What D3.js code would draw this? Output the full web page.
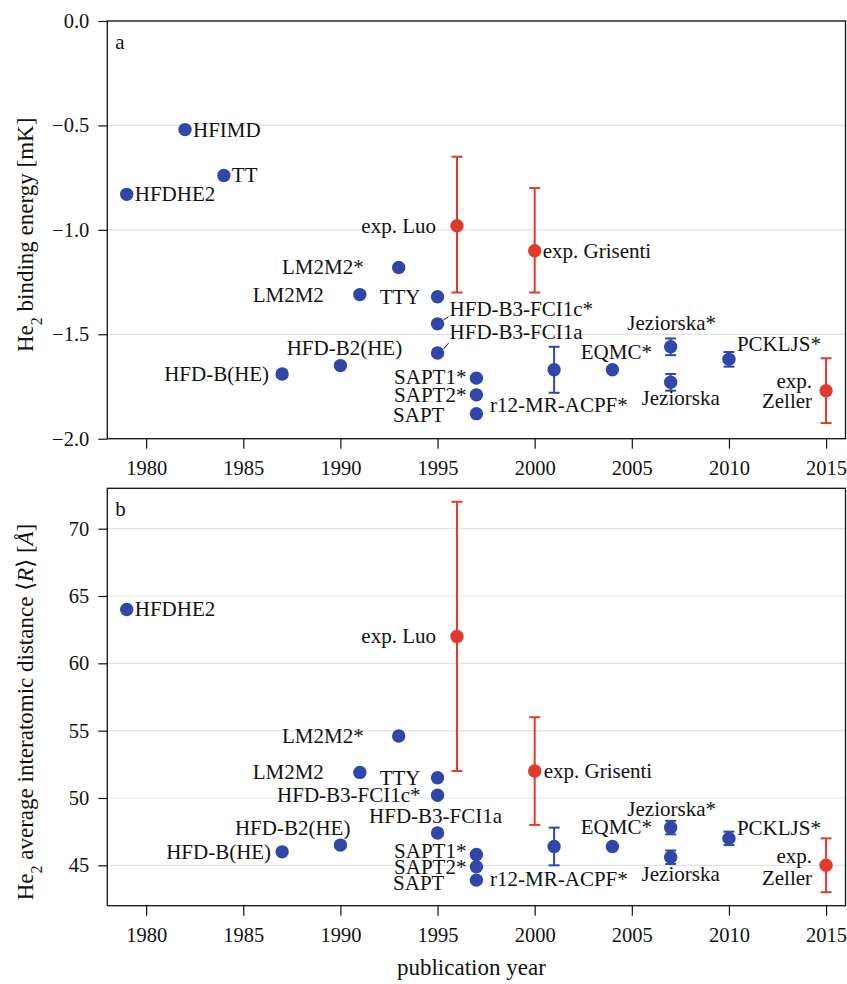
<!DOCTYPE html>
<html>
<head>
<meta charset="utf-8">
<script src="https://cdn.jsdelivr.net/npm/d3@7"></script>
<style>
  body { margin: 0; background: #fff; }
  svg text { font-family: "Liberation Serif", "DejaVu Serif", serif; fill: #111; }
</style>
</head>
<body>
<div id="chart"></div>
<script>
// publications, in the order they are drawn
var names = ["HFDHE2", "HFIMD", "TT", "HFD-B(HE)", "HFD-B2(HE)", "LM2M2", "LM2M2*", "TTY",
    "HFD-B3-FCI1c*", "HFD-B3-FCI1a", "exp. Luo", "SAPT1*", "SAPT2*", "SAPT", "exp. Grisenti",
    "r12-MR-ACPF*", "EQMC*", "Jeziorska*", "Jeziorska", "PCKLJS*", "exp. Zeller"];
var years = [1979, 1982, 1984, 1987, 1990, 1991, 1993, 1995, 1995, 1995, 1996, 1997, 1997, 1997,
    2000, 2001, 2004, 2007, 2007, 2010, 2015];
var experiment = [0, 0, 0, 0, 0, 0, 0, 0, 0, 0, 1, 0, 0, 0, 1, 0, 0, 0, 0, 0, 1];

// binding energy [mK] and its error bars (+ / -)
var energy = [-0.83, -0.52, -0.74, -1.69, -1.65, -1.31, -1.18, -1.32, -1.45, -1.59, -0.98, -1.71,
    -1.79, -1.88, -1.10, -1.67, -1.67, -1.56, -1.73, -1.62, -1.77];
var energyErrUp = [0, 0, 0, 0, 0, 0, 0, 0, 0, 0, 0.33, 0, 0, 0, 0.30, 0.11, 0, 0.04, 0.04, 0.035, 0.155];
var energyErrDown = [0, 0, 0, 0, 0, 0, 0, 0, 0, 0, 0.32, 0, 0, 0, 0.20, 0.11, 0, 0.04, 0.04, 0.035, 0.155];

// average distance <R> [A] (HFIMD and TT not given)
var distance = [64.0, null, null, 46.0, 46.5, 51.9, 54.6, 51.5, 50.2, 47.4, 62.0, 45.8, 44.9, 43.9,
    52.0, 46.4, 46.4, 47.8, 45.6, 47.0, 45.0];
var distanceErrUp = [0, 0, 0, 0, 0, 0, 0, 0, 0, 0, 10, 0, 0, 0, 4, 1.4, 0, 0.5, 0.5, 0.5, 2];
var distanceErrDown = [0, 0, 0, 0, 0, 0, 0, 0, 0, 0, 10, 0, 0, 0, 4, 1.4, 0, 0.5, 0.5, 0.5, 2];

var xTicks = [1980, 1985, 1990, 1995, 2000, 2005, 2010, 2015];
var energyTicks = [-2.0, -1.5, -1.0, -0.5, 0.0];
var distanceTicks = [45, 50, 55, 60, 65, 70];

// label placement: anchor, dx, dy (dy = offset of the text middle from the dot)
var labelsA = {
    "HFDHE2": ["start", 8, 0], "HFIMD": ["start", 8, 0], "TT": ["start", 8, 0],
    "HFD-B(HE)": ["end", -13, 0], "HFD-B2(HE)": ["middle", 4, -18],
    "LM2M2": ["end", -36, 0], "LM2M2*": ["end", -35, 0], "TTY": ["end", -17, 0],
    "HFD-B3-FCI1c*": ["start", 12, -15, [6, -4, 11, -7]],
    "HFD-B3-FCI1a": ["start", 12, -21, [6, -4, 11, -10]],
    "exp. Luo": ["end", -21, 0], "SAPT1*": ["end", -10, -1], "SAPT2*": ["end", -10, 0],
    "SAPT": ["end", -32, 1], "exp. Grisenti": ["start", 8, 0], "r12-MR-ACPF*": ["start", -64, 35],
    "EQMC*": ["middle", 4, -18], "Jeziorska*": ["middle", 1, -24], "Jeziorska": ["middle", 10, 16],
    "PCKLJS*": ["start", 8, -15], "exp. Zeller": ["end", -14, -10, null, 20.5]
};
var labelsB = {
    "HFDHE2": ["start", 8, 0],
    "HFD-B(HE)": ["end", -11, 0], "HFD-B2(HE)": ["end", 10, -17],
    "LM2M2": ["end", -36, 0], "LM2M2*": ["end", -35, 0], "TTY": ["end", -17, 0],
    "HFD-B3-FCI1c*": ["end", -17, 0], "HFD-B3-FCI1a": ["middle", -2, -17],
    "exp. Luo": ["end", -21, 0], "SAPT1*": ["end", -10, -3], "SAPT2*": ["end", -10, 0],
    "SAPT": ["end", -32, 3], "exp. Grisenti": ["start", 9, 0], "r12-MR-ACPF*": ["start", -64, 33],
    "EQMC*": ["middle", 4, -19], "Jeziorska*": ["middle", 1, -19], "Jeziorska": ["middle", 10, 16.5],
    "PCKLJS*": ["start", 8, -10], "exp. Zeller": ["end", -14, -9, null, 22]
};

var width = 847, height = 984;
var fs = 21, tickFs = 20.5, titleFs = 23;
var blue = "#3046a8", red = "#e1392b";
var left = 107.3, right = 845.5;

var svg = d3.select("#chart").append("svg")
    .attr("width", width)
    .attr("height", height);

var x = d3.scaleLinear().domain([1978, 2016]).range([left, right]);

function panel(opts) {
    var y = d3.scaleLinear().domain(opts.domain).range([opts.bottom, opts.top]);
    var g = svg.append("g");

    // grid
    g.selectAll(".grid").data(opts.ticks).enter().append("line")
        .attr("x1", left).attr("x2", right)
        .attr("y1", function (d) { return y(d); })
        .attr("y2", function (d) { return y(d); })
        .attr("stroke", "#e3e3e3").attr("stroke-width", 1.2);

    var yAxis = g.append("g")
        .attr("transform", "translate(" + left + ",0)")
        .call(d3.axisLeft(y).tickValues(opts.ticks).tickSize(9).tickPadding(9).tickFormat(opts.format));
    var xAxis = g.append("g")
        .attr("transform", "translate(0," + opts.bottom + ")")
        .call(d3.axisBottom(x).tickValues(xTicks).tickSize(10).tickPadding(12).tickFormat(d3.format("d")));
    [yAxis, xAxis].forEach(function (a) {
        a.select(".domain").remove();
        a.selectAll(".tick line").attr("stroke", "#111").attr("stroke-width", 1.2);
        a.selectAll(".tick text").style("font-size", tickFs + "px")
            .style("font-family", "'Liberation Serif', serif").attr("fill", "#111");
    });

    // frame
    g.append("rect")
        .attr("x", left).attr("y", opts.top)
        .attr("width", right - left).attr("height", opts.bottom - opts.top)
        .attr("fill", "none").attr("stroke", "#111").attr("stroke-width", 1.3);

    g.append("text")
        .attr("x", left + 8).attr("y", opts.top + 28)
        .style("font-size", fs + "px")
        .text(opts.letter);

    var pts = [];
    names.forEach(function (n, i) {
        if (opts.values[i] == null) return;
        pts.push({ name: n, year: years[i], v: opts.values[i], up: opts.up[i], down: opts.down[i],
            color: experiment[i] ? red : blue });
    });

    // error bars
    var eb = g.selectAll(".err").data(pts.filter(function (d) { return d.up > 0; }))
        .enter().append("g");
    eb.append("line")
        .attr("x1", function (d) { return x(d.year); })
        .attr("x2", function (d) { return x(d.year); })
        .attr("y1", function (d) { return y(d.v + d.up); })
        .attr("y2", function (d) { return y(d.v - d.down); })
        .attr("stroke", function (d) { return d.color; }).attr("stroke-width", 2);
    ["up", "down"].forEach(function (k) {
        eb.append("line")
            .attr("x1", function (d) { return x(d.year) - 5.5; })
            .attr("x2", function (d) { return x(d.year) + 5.5; })
            .attr("y1", function (d) { return y(k == "up" ? d.v + d.up : d.v - d.down); })
            .attr("y2", function (d) { return y(k == "up" ? d.v + d.up : d.v - d.down); })
            .attr("stroke", function (d) { return d.color; }).attr("stroke-width", 2);
    });

    // dots
    g.selectAll(".dot").data(pts).enter().append("circle")
        .attr("cx", function (d) { return x(d.year); })
        .attr("cy", function (d) { return y(d.v); })
        .attr("r", 6.7)
        .attr("fill", function (d) { return d.color; });

    // labels
    pts.forEach(function (d) {
        var L = opts.labels[d.name];
        if (!L) return;
        var cx = x(d.year), cy = y(d.v);
        var t = g.append("text")
            .attr("text-anchor", L[0])
            .style("font-size", fs + "px");
        if (L[4]) {
            var parts = d.name.split(" ");
            t.append("tspan").attr("x", cx + L[1]).attr("y", cy + L[2] + 0.33 * fs).text(parts[0]);
            t.append("tspan").attr("x", cx + L[1]).attr("y", cy + L[2] + L[4] + 0.33 * fs).text(parts[1]);
        } else {
            t.attr("x", cx + L[1]).attr("y", cy + L[2] + 0.33 * fs).text(d.name);
        }
        if (L[3]) {
            g.append("line")
                .attr("x1", cx + L[3][0]).attr("y1", cy + L[3][1])
                .attr("x2", cx + L[3][2]).attr("y2", cy + L[3][3])
                .attr("stroke", "#111").attr("stroke-width", 1);
        }
    });

    // y title
    var yt = g.append("text")
        .attr("transform", "translate(33," + ((opts.top + opts.bottom) / 2 + opts.titleShift) + ") rotate(-90)")
        .attr("text-anchor", "middle")
        .style("font-size", titleFs + "px");
    yt.append("tspan").text("He");
    yt.append("tspan").attr("baseline-shift", "sub").style("font-size", "16px").text("2");
    opts.title(yt);
}

panel({
    domain: [-2, 0], top: 21, bottom: 438.7, ticks: energyTicks, letter: "a",
    format: d3.format(".1f"), values: energy, up: energyErrUp, down: energyErrDown,
    labels: labelsA, titleShift: 5,
    title: function (t) { t.append("tspan").text(" binding energy [mK]"); }
});

panel({
    domain: [42, 73], top: 488.3, bottom: 905.7, ticks: distanceTicks, letter: "b",
    format: d3.format("d"), values: distance, up: distanceErrUp, down: distanceErrDown,
    labels: labelsB, titleShift: 15,
    title: function (t) {
        t.append("tspan").text(" average interatomic distance \u27E8");
        t.append("tspan").style("font-style", "italic").text("R");
        t.append("tspan").text("\u27E9 [");
        t.append("tspan").style("font-style", "italic").text("\u00C5");
        t.append("tspan").text("]");
    }
});

svg.append("text")
    .attr("x", (left + right) / 2 - 5)
    .attr("y", 975)
    .attr("text-anchor", "middle")
    .style("font-size", titleFs + "px")
    .text("publication year");
</script>
</body>
</html>
